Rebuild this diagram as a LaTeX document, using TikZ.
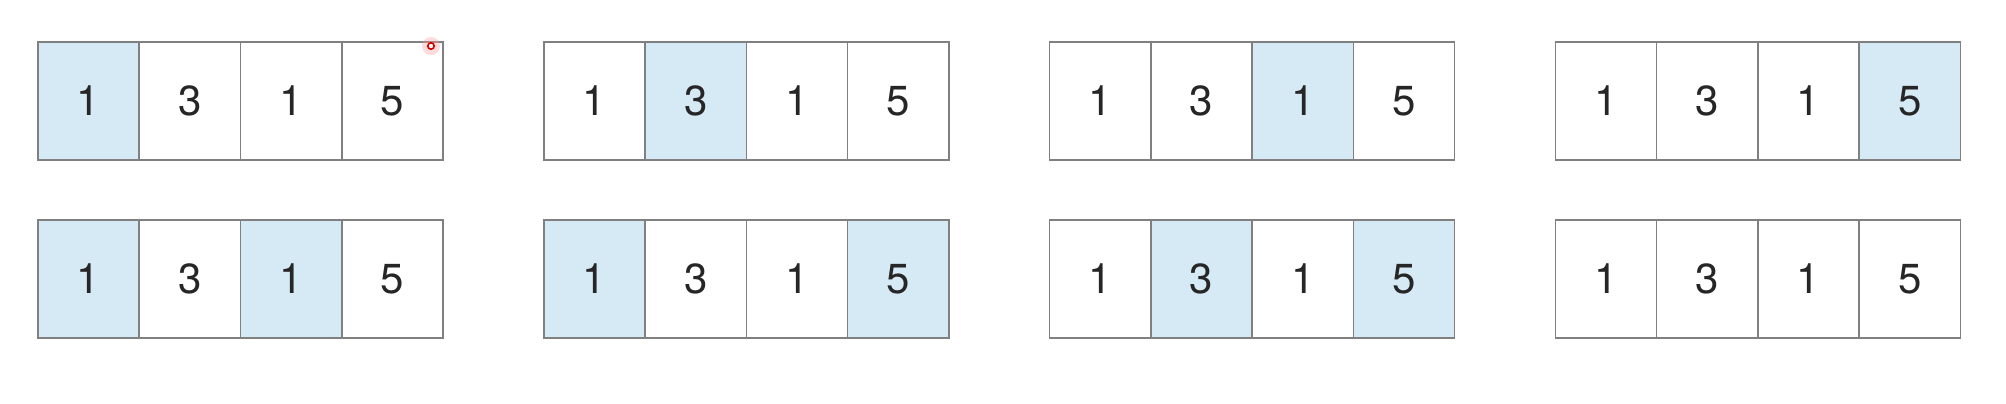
\documentclass[tikz,border=0pt]{standalone}
\usepackage{fontspec}
\setmainfont{TeX Gyre Heros}
\definecolor{hl}{HTML}{D6EAF5}
\definecolor{edge}{HTML}{808080}
\begin{document}
\begin{tikzpicture}[x=1pt,y=-1pt,
  cell/.style={draw=edge,line width=1.6pt,fill=white,minimum width=101.25pt,minimum height=118pt,inner sep=0pt,outer sep=0pt,anchor=north west,font=\fontsize{42}{42}\selectfont,text=black!85},
  hot/.style={fill=hl}]
\useasboundingbox (0,0) rectangle (2006,404);
\fill[white] (0,0) rectangle (2006,404);
\foreach \r/\ytop/\flags in {1/42/{1000,0100,0010,0001},2/220/{1010,1001,0101,0000}}{
  \foreach \f [count=\a] in \flags {
    \pgfmathsetmacro{\xl}{38+(\a-1)*505.8}
    \foreach \c/\v in {1/1,2/3,3/1,4/5}{
      \pgfmathtruncatemacro{\bit}{mod(floor(1\f/10^(4-\c)),10)}
      \ifnum\bit=1
        \node[cell,hot] (n\r-\a-\c) at ({\xl+(\c-1)*101.25},\ytop) {\v};
      \else
        \node[cell] (n\r-\a-\c) at ({\xl+(\c-1)*101.25},\ytop) {\v};
      \fi
    }
  }
}
% cursor marker
\fill[red!40,opacity=0.35] (431,46) circle (9);
\draw[red!85!black,fill=white,line width=1.6pt] (431,46) circle (3.2);
\end{tikzpicture}
\end{document}
